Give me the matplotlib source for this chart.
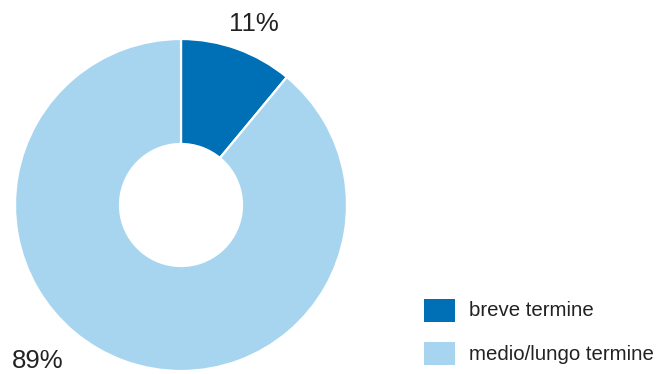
import matplotlib.pyplot as plt
from matplotlib.patches import Rectangle

# Share of horizons
categories = ["breve termine", "medio/lungo termine"]
shares = [11, 89]
colors = ["#0070b6", "#a7d5f0"]

W, H = 659, 374
fig = plt.figure(figsize=(W / 100, H / 100), dpi=100)
ax = fig.add_axes([0, 0, 1, 1])
ax.set_aspect("equal")

fonts = ["Liberation Sans", "DejaVu Sans"]

cx, cy, r_out, r_in = 181, 169, 166, 61
ax.pie(shares, colors=colors, startangle=90, counterclock=False,
       center=(cx, cy), radius=r_out, frame=True,
       wedgeprops=dict(width=r_out - r_in, edgecolor="white", linewidth=1.6))
ax.set_xlim(0, W)
ax.set_ylim(0, H)
ax.axis("off")

# Percentage labels
label_pos = [(254, H - 24), (38, H - 361)]
for val, (x, y) in zip(shares, label_pos):
    ax.text(x, y, f"{val}%", fontsize=18.5, color="#222222",
            ha="center", va="center", family=fonts)

# Legend
for i, (cat, col) in enumerate(zip(categories, colors)):
    ytop = H - 299 - i * 43
    ax.add_patch(Rectangle((424, ytop - 23), 31, 23, facecolor=col, edgecolor="none"))
    ax.text(469, ytop - 12, cat, fontsize=14.7, color="#222222",
            ha="left", va="center", family=fonts)

fig.savefig("out.png", dpi=100)
